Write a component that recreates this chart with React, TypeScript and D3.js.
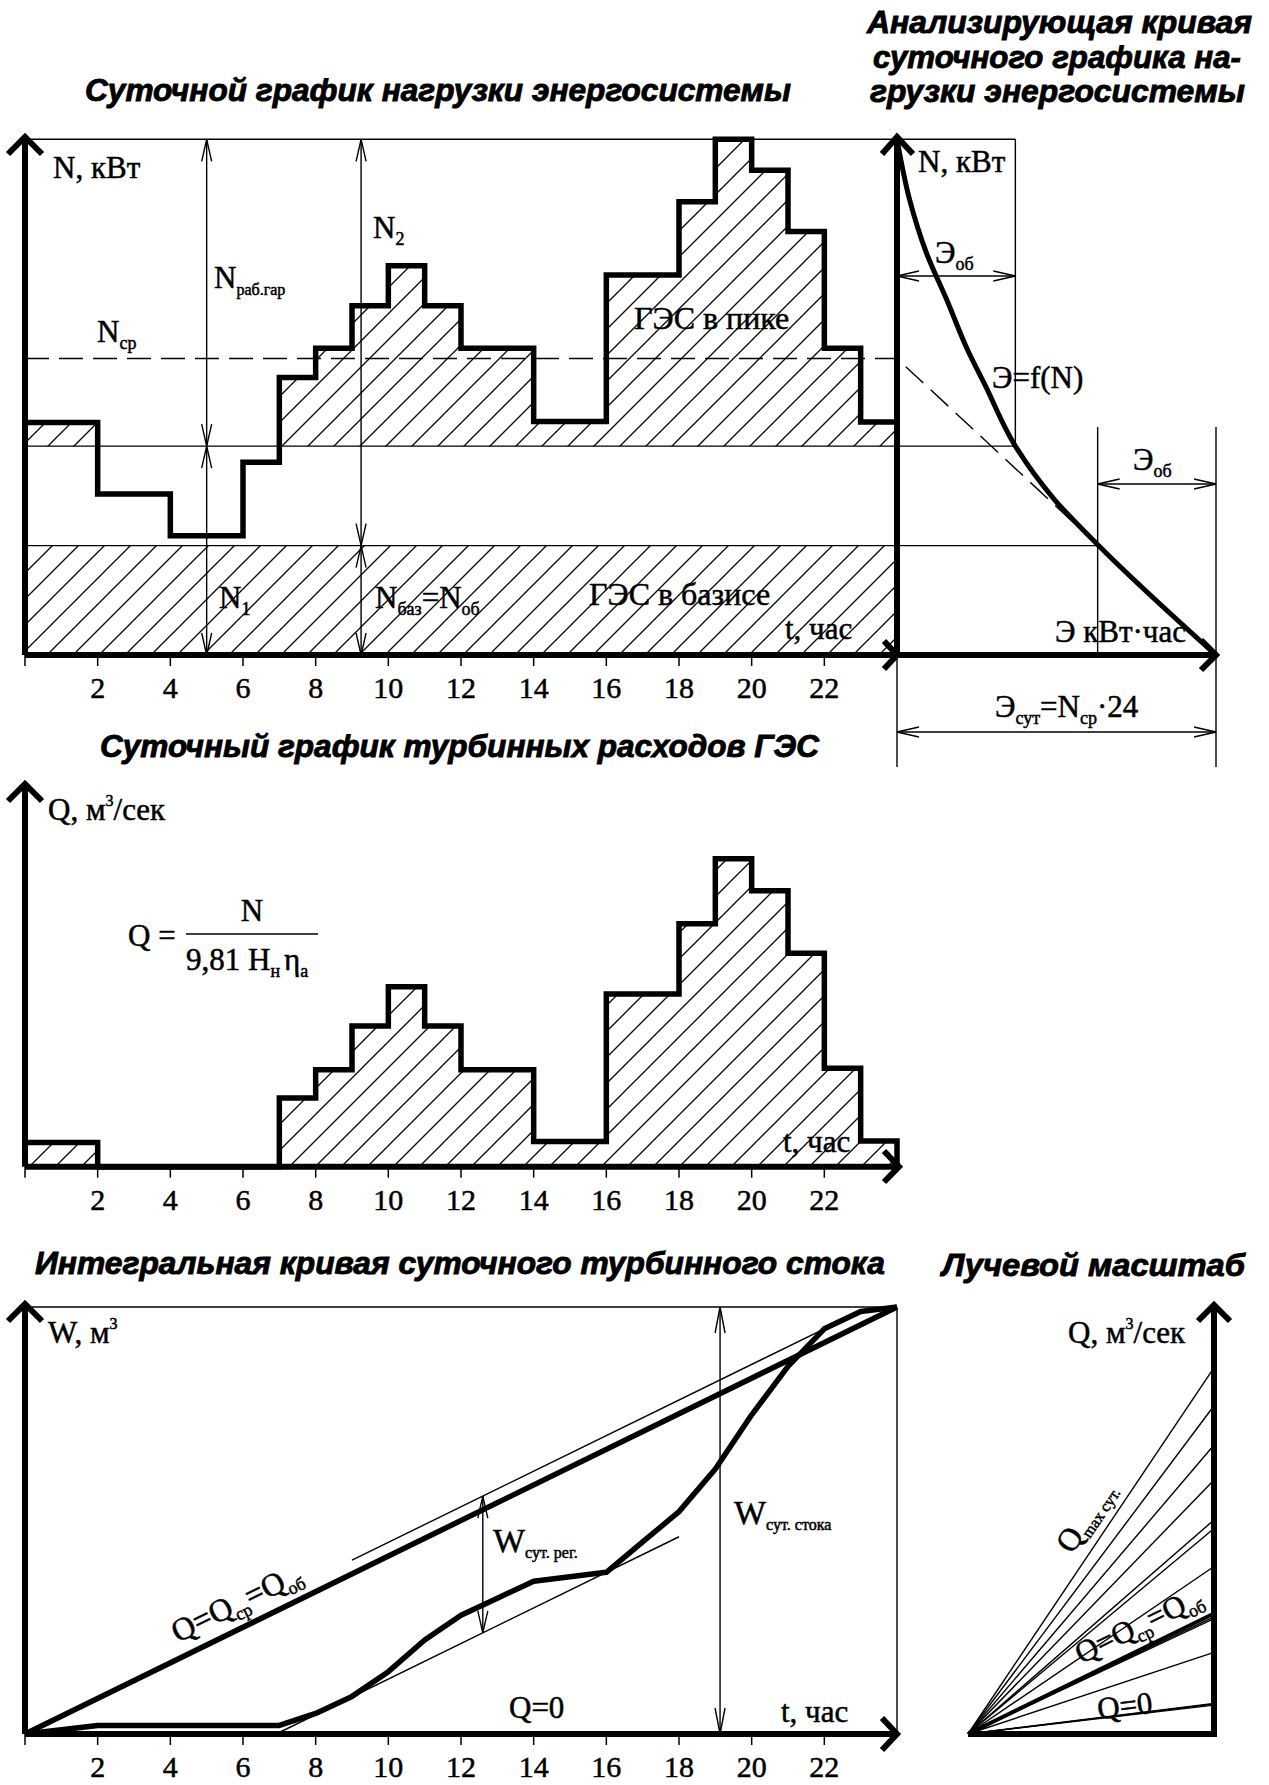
import React from "react";
import * as d3 from "d3";

// hourly load of the power system, N (relative units, peak = 100)
const loadN = [45.1, 45.1, 31.2, 31.2, 23.1, 23.1, 37.4, 53.8, 59.5, 67.7, 75.5, 67.7,
  59.5, 59.5, 45.3, 45.3, 73.7, 73.7, 87.9, 100, 94.0, 82.1, 59.5, 45.2];
// hourly turbine discharge of the HPP, Q
const turbineQ = [4.7, 4.7, 0, 0, 0, 0, 0, 13.3, 18.8, 27.3, 34.9, 27.3,
  18.8, 18.8, 4.9, 4.9, 33.5, 33.5, 47.1, 59.7, 53.5, 41.4, 19.1, 5.0];
const levelN1 = 40.5;
const levelBase = 21.2;
const levelAvg = 57.5;
// analysing curve Э = f(N)
const curveN = [100, 88.2, 78.0, 68.8, 59.1, 52.7, 40.5, 30.1, 21.2, 0];
const curveE = [0, 55, 127, 216, 306, 377, 512, 682, 873, 1380];
const energyTotal = 1380;
const energyHpp = 512;
const tickHours = [2, 4, 6, 8, 10, 12, 14, 16, 18, 20, 22];
const dimHours = { n1: 5, n2: 9.25, wReg: 12.6, wDay: 19.13 };
const tangentSpan = { upper: [9, 22], lower: [7, 18] };

const serif = "'Liberation Serif', 'Times New Roman', serif";
const sans = "'Liberation Sans', Arial, sans-serif";

const xT = d3.scaleLinear().domain([0, 24]).range([25, 897]);
const yN = d3.scaleLinear().domain([0, 100]).range([655, 139.3]);
const yQ = d3.scaleLinear().domain([0, 100]).range([1166.7, 651]);
const xE = d3.scaleLinear().domain([0, energyTotal]).range([897, 1216]);

const cumW = Array.from(d3.cumsum(turbineQ));
const wTotal = cumW[cumW.length - 1];
const qAvg = wTotal / 24;
const yW = d3.scaleLinear().domain([0, wTotal]).range([1734, 1307]);

const stepLine = d3.line<[number, number]>().curve(d3.curveStepAfter);

function arrow(x: number, y: number, dir: string, len = 22, hw = 5) {
  if (dir === "up") return `M${x - hw},${y + len}L${x},${y}L${x + hw},${y + len}`;
  if (dir === "down") return `M${x - hw},${y - len}L${x},${y}L${x + hw},${y - len}`;
  if (dir === "left") return `M${x + len},${y - hw}L${x},${y}L${x + len},${y + hw}`;
  return `M${x - len},${y - hw}L${x},${y}L${x - len},${y + hw}`;
}

// main text + subscript; "back" moves the main text back up from a previous subscript
const Sub = ({ t, s, size = 18, dy = 7, back = 0 }:
  { t: string; s: string; size?: number; dy?: number; back?: number }) => (
  <>
    <tspan dy={back || undefined}>{t}</tspan>
    <tspan fontSize={size} dy={dy}>{s}</tspan>
  </>
);

function TimeAxis({ y }: { y: number }) {
  return (
    <g>
      {[0, ...tickHours].map((h) => (
        <line key={h} x1={xT(h)} x2={xT(h)} y1={y} y2={y + 11} stroke="#000" strokeWidth={1.5} />
      ))}
      {tickHours.map((h) => (
        <text key={h} x={xT(h)} y={y + 43} textAnchor="middle" fontSize={30}
          stroke="#000" strokeWidth={0.5}>{h}</text>
      ))}
    </g>
  );
}

export default function App() {
  const stepPts = (vals: number[]) =>
    [...vals.map((v, i) => [i, v] as [number, number]), [24, vals[23]] as [number, number]];

  // chart 1
  const loadPath = stepLine(stepPts(loadN).map(([t, v]) => [xT(t), yN(v)]));
  const peakArea = d3.area<[number, number]>()
    .curve(d3.curveStepAfter)
    .x((d) => xT(d[0]))
    .y0(yN(levelN1))
    .y1((d) => yN(Math.max(d[1], levelN1)))(stepPts(loadN));
  const energyCurve = d3.line<number>()
    .curve(d3.curveMonotoneY)
    .x((_, i) => xE(curveE[i]))
    .y((n) => yN(n))(curveN);

  // chart 2
  const qPts = stepPts(turbineQ);
  const qPath = stepLine([...qPts.map(([t, v]) => [xT(t), yQ(v)] as [number, number]), [xT(24), yQ(0)]]);
  const qArea = d3.area<[number, number]>()
    .curve(d3.curveStepAfter)
    .x((d) => xT(d[0]))
    .y0(yQ(0))
    .y1((d) => yQ(d[1]))(qPts);

  // chart 3
  const wPts: [number, number][] = [[0, 0], ...cumW.map((w, i) => [i + 1, w] as [number, number])];
  const wPath = d3.line<[number, number]>().x((d) => xT(d[0])).y((d) => yW(d[1]))(wPts);
  const dev = wPts.map(([t, w]) => w - qAvg * t);
  const devMax = d3.max(dev) as number;
  const devMin = d3.min(dev) as number;
  const tLow0 = -devMin / qAvg;
  const upY = (t: number) => yW(qAvg * t + devMax);
  const loY = (t: number) => yW(qAvg * t + devMin);
  const avgAngle = (Math.atan2(yW(0) - yW(wTotal), xT(24) - xT(0)) * 180) / Math.PI;

  // ray scale
  const rayO = [968, 1734];
  const rayX = 1214;
  const run = rayX - rayO[0];
  const slopeOf = (q: number) => ((yW(0) - yW(q)) / (xT(1) - xT(0)));
  const rayQs = Array.from(new Set(turbineQ.filter((q) => q > 0))).sort((a, b) => a - b);
  const maxAngle = (Math.atan(slopeOf(d3.max(turbineQ) as number)) * 180) / Math.PI;
  const avgRayAngle = (Math.atan(slopeOf(qAvg)) * 180) / Math.PI;
  const lowRayAngle = (Math.atan(slopeOf(rayQs[0])) * 180) / Math.PI;

  const thin = { stroke: "#000", strokeWidth: 1.4, fill: "none" };
  const thick = { stroke: "#000", strokeWidth: 5.5, fill: "none", strokeLinejoin: "miter" as const };
  const axis = { stroke: "#000", strokeWidth: 6, fill: "none" };
  const txt = { stroke: "#000", strokeWidth: 0.5 };

  return (
    <svg width={1269} height={1785} style={{ position: "absolute", left: 0, top: 0, background: "#fff" }}
      fontFamily={serif}>
      <defs>
        <pattern id="hatch" patternUnits="userSpaceOnUse" width={26} height={26}>
          <path d="M0,26L26,0M-6.5,6.5L6.5,-6.5M19.5,32.5L32.5,19.5" stroke="#000" strokeWidth={1.3} />
        </pattern>
      </defs>
      <rect width={1269} height={1785} fill="#fff" />

      {/* titles */}
      <g fontFamily={sans} fontWeight="bold" fontStyle="italic" fontSize={31} stroke="#000" strokeWidth={0.9}>
        <text x={85} y={101} textLength={706} lengthAdjust="spacingAndGlyphs">Суточной график нагрузки энергосистемы</text>
        <text x={867} y={33} textLength={385} lengthAdjust="spacingAndGlyphs">Анализирующая кривая</text>
        <text x={873} y={68} textLength={368} lengthAdjust="spacingAndGlyphs">суточного графика на-</text>
        <text x={870} y={102} textLength={375} lengthAdjust="spacingAndGlyphs">грузки энергосистемы</text>
        <text x={100} y={757} textLength={719} lengthAdjust="spacingAndGlyphs">Суточный график турбинных расходов ГЭС</text>
        <text x={35} y={1274} textLength={850} lengthAdjust="spacingAndGlyphs">Интегральная кривая суточного турбинного стока</text>
        <text x={942} y={1276} textLength={303} lengthAdjust="spacingAndGlyphs">Лучевой масштаб</text>
      </g>

      {/* ===== chart 1: daily load ===== */}
      <rect x={xT(0)} y={yN(levelBase)} width={xT(24) - xT(0)} height={yN(0) - yN(levelBase)} fill="url(#hatch)" />
      <path d={peakArea ?? ""} fill="url(#hatch)" />
      <line x1={xT(0)} x2={xE(energyHpp)} y1={yN(100)} y2={yN(100)} {...thin} />
      <line x1={xT(0)} x2={xE(energyHpp)} y1={yN(levelN1)} y2={yN(levelN1)} {...thin} />
      <line x1={xT(0)} x2={xE(energyTotal - energyHpp)} y1={yN(levelBase)} y2={yN(levelBase)} {...thin} />
      <path d={`M${xT(0)},${yN(levelAvg)}L${xT(24)},${yN(levelAvg)}L${xE(energyTotal)},${yN(0)}`}
        {...thin} strokeDasharray="24 10" />
      <path d={loadPath ?? ""} {...thick} />

      {/* dimension lines */}
      {[dimHours.n1, dimHours.n2].map((h) => (
        <line key={h} x1={xT(h)} x2={xT(h)} y1={yN(100)} y2={yN(0)} {...thin} />
      ))}
      <path d={[
        arrow(xT(dimHours.n1), yN(100), "up"), arrow(xT(dimHours.n1), yN(levelN1), "down"),
        arrow(xT(dimHours.n1), yN(levelN1), "up"), arrow(xT(dimHours.n1), yN(0), "down"),
        arrow(xT(dimHours.n2), yN(100), "up"), arrow(xT(dimHours.n2), yN(levelBase), "down"),
        arrow(xT(dimHours.n2), yN(levelBase), "up"), arrow(xT(dimHours.n2), yN(0), "down"),
      ].join("")} {...thin} />

      {/* axes chart 1 */}
      <path d={`M${xT(0)},${yN(0)}V137`} {...axis} />
      <path d="M8,154L25,137L42,154" {...axis} />
      <path d={`M${xT(0)},${yN(0)}H${xE(energyTotal)}`} {...axis} />
      <path d={`M884,641L897,655L884,669`} {...axis} />
      <TimeAxis y={yN(0)} />

      <g fontSize={31} {...txt}>
        <text x={53} y={178}>N, кВт</text>
        <text x={373} y={238}><Sub t="N" s="2" /></text>
        <text x={214} y={288}><Sub t="N" s="раб.гар" size={16} /></text>
        <text x={97} y={342}><Sub t="N" s="ср" /></text>
        <text x={634} y={329} fontSize={32}>ГЭС в пике</text>
        <text x={219} y={608}><Sub t="N" s="1" /></text>
        <text x={375} y={608}><Sub t="N" s="баз" /><Sub t="=N" s="об" back={-7} /></text>
        <text x={589} y={605} fontSize={32}>ГЭС в базисе</text>
        <text x={785} y={639}>t, час</text>
      </g>

      {/* ===== analysing curve ===== */}
      <line x1={xE(energyHpp)} x2={xE(energyHpp)} y1={yN(100)} y2={yN(levelN1)} {...thin} />
      <line x1={xE(energyTotal - energyHpp)} x2={xE(energyTotal - energyHpp)} y1={427} y2={yN(0)} {...thin} />
      <line x1={xE(energyTotal)} x2={xE(energyTotal)} y1={427} y2={767} {...thin} />
      <line x1={xE(0)} x2={xE(0)} y1={yN(0)} y2={767} {...thin} />
      <line x1={xE(0)} x2={xE(energyHpp)} y1={276} y2={276} {...thin} />
      <path d={arrow(xE(0), 276, "left") + arrow(xE(energyHpp), 276, "right")} {...thin} />
      <line x1={xE(energyTotal - energyHpp)} x2={xE(energyTotal)} y1={484} y2={484} {...thin} />
      <path d={arrow(xE(energyTotal - energyHpp), 484, "left") + arrow(xE(energyTotal), 484, "right")} {...thin} />
      <line x1={xE(0)} x2={xE(energyTotal)} y1={732} y2={732} {...thin} />
      <path d={arrow(xE(0), 732, "left") + arrow(xE(energyTotal), 732, "right")} {...thin} />
      <path d={energyCurve ?? ""} stroke="#000" strokeWidth={5} fill="none" />
      <path d={`M${xE(0)},${yN(0)}V137`} {...axis} />
      <path d="M882,154L897,137L913,154" {...axis} />
      <path d="M1201,640L1216,655L1201,670" {...axis} />
      <g fontSize={31} {...txt}>
        <text x={918} y={172}>N, кВт</text>
        <text x={935} y={263}><Sub t="Э" s="об" /></text>
        <text x={992} y={388}>Э=f(N)</text>
        <text x={1133} y={470}><Sub t="Э" s="об" /></text>
        <text x={1055} y={642}>Э кВт·час</text>
        <text x={995} y={717}>
          <Sub t="Э" s="сут" /><Sub t="=N" s="ср" back={-7} /><tspan dy={-7}>·24</tspan>
        </text>
      </g>

      {/* ===== chart 2: turbine discharge ===== */}
      <path d={qArea ?? ""} fill="url(#hatch)" />
      <path d={qPath ?? ""} {...thick} />
      <path d={`M${xT(0)},${yQ(0)}V784`} {...axis} />
      <path d="M8,801L25,784L42,801" {...axis} />
      <path d={`M${xT(0)},${yQ(0)}H899`} {...axis} />
      <path d="M884,1151L899,1166.7L884,1182" {...axis} />
      <TimeAxis y={yQ(0)} />
      <g fontSize={31} {...txt}>
        <text x={48} y={820}>Q, м<tspan fontSize={16} dy={-14}>3</tspan><tspan dy={14}>/сек</tspan></text>
        <text x={128} y={946}>Q =</text>
        <line x1={186} x2={318} y1={934} y2={934} stroke="#000" strokeWidth={1.4} />
        <text x={252} y={921} textAnchor="middle">N</text>
        <text x={186} y={970}>
          9,81 <Sub t="H" s="н" /><tspan dy={-7} dx={4}>η</tspan><tspan fontSize={18} dy={7}>а</tspan>
        </text>
        <text x={783} y={1152}>t, час</text>
      </g>

      {/* ===== chart 3: integral curve ===== */}
      <line x1={xT(0)} x2={xT(24)} y1={yW(wTotal)} y2={yW(wTotal)} {...thin} />
      <line x1={xT(24)} x2={xT(24)} y1={yW(wTotal)} y2={yW(0)} {...thin} />
      <line x1={xT(tangentSpan.upper[0])} x2={xT(tangentSpan.upper[1])}
        y1={upY(tangentSpan.upper[0])} y2={upY(tangentSpan.upper[1])} {...thin} />
      <line x1={xT(tLow0)} x2={xT(tangentSpan.lower[1])}
        y1={loY(tLow0)} y2={loY(tangentSpan.lower[1])} {...thin} />
      <line x1={xT(dimHours.wReg)} x2={xT(dimHours.wReg)} y1={upY(dimHours.wReg)} y2={loY(dimHours.wReg)} {...thin} />
      <path d={arrow(xT(dimHours.wReg), upY(dimHours.wReg), "up") + arrow(xT(dimHours.wReg), loY(dimHours.wReg), "down")} {...thin} />
      <line x1={xT(dimHours.wDay)} x2={xT(dimHours.wDay)} y1={yW(wTotal)} y2={yW(0)} {...thin} />
      <path d={arrow(xT(dimHours.wDay), yW(wTotal), "up", 26) + arrow(xT(dimHours.wDay), yW(0), "down", 26)} {...thin} />
      <line x1={xT(0)} x2={xT(24)} y1={yW(0)} y2={yW(wTotal)} stroke="#000" strokeWidth={5.5} />
      <path d={wPath ?? ""} stroke="#000" strokeWidth={5.5} fill="none" strokeLinejoin="round" />
      <path d={`M${xT(0)},${yW(0)}V1304`} {...axis} />
      <path d="M8,1321L25,1304L42,1321" {...axis} />
      <path d={`M${xT(0)},${yW(0)}H${xT(24)}`} {...axis} />
      <path d={`M882,1718L897,1734L882,1750`} {...axis} />
      <TimeAxis y={yW(0)} />
      <g fontSize={31} {...txt}>
        <text x={48} y={1343}>W, м<tspan fontSize={16} dy={-14}>3</tspan></text>
        <g transform={`translate(241,1612) rotate(${-avgAngle})`}>
          <text textAnchor="middle" fontSize={32}><Sub t="Q=Q" s="ср" /><Sub t="=Q" s="об" back={-7} /></text>
        </g>
        <text x={493} y={1552} fontSize={34}><Sub t="W" s="сут. рег." size={16} dy={6} /></text>
        <text x={734} y={1524} fontSize={34}><Sub t="W" s="сут. стока" size={16} dy={6} /></text>
        <text x={509} y={1718}>Q=0</text>
        <text x={781} y={1722}>t, час</text>
      </g>

      {/* ===== ray scale ===== */}
      {rayQs.map((q) => (
        <line key={q} x1={rayO[0]} y1={rayO[1]} x2={rayX} y2={rayO[1] - run * slopeOf(q)} {...thin} />
      ))}
      <line x1={rayO[0]} y1={rayO[1]} x2={rayX} y2={rayO[1] - run * slopeOf(qAvg)} stroke="#000" strokeWidth={4} />
      <path d={`M${rayO[0]},${rayO[1]}H${rayX}V1305`} {...axis} />
      <path d="M1198,1321L1214,1305L1230,1321" {...axis} />
      <g fontSize={31} {...txt}>
        <text x={1068} y={1343}>Q, м<tspan fontSize={16} dy={-14}>3</tspan><tspan dy={14}>/сек</tspan></text>
        <g transform={`translate(1094,1522) rotate(${-maxAngle})`}>
          <text textAnchor="middle" fontSize={32}><Sub t="Q" s="max сут." size={16} dy={6} /></text>
        </g>
        <g transform={`translate(1143,1634) rotate(${-avgRayAngle})`}>
          <text textAnchor="middle" fontSize={31}><Sub t="Q=Q" s="ср" /><Sub t="=Q" s="об" back={-7} /></text>
        </g>
        <g transform={`translate(1126,1716) rotate(${-lowRayAngle})`}>
          <text textAnchor="middle">Q=0</text>
        </g>
      </g>
    </svg>
  );
}
